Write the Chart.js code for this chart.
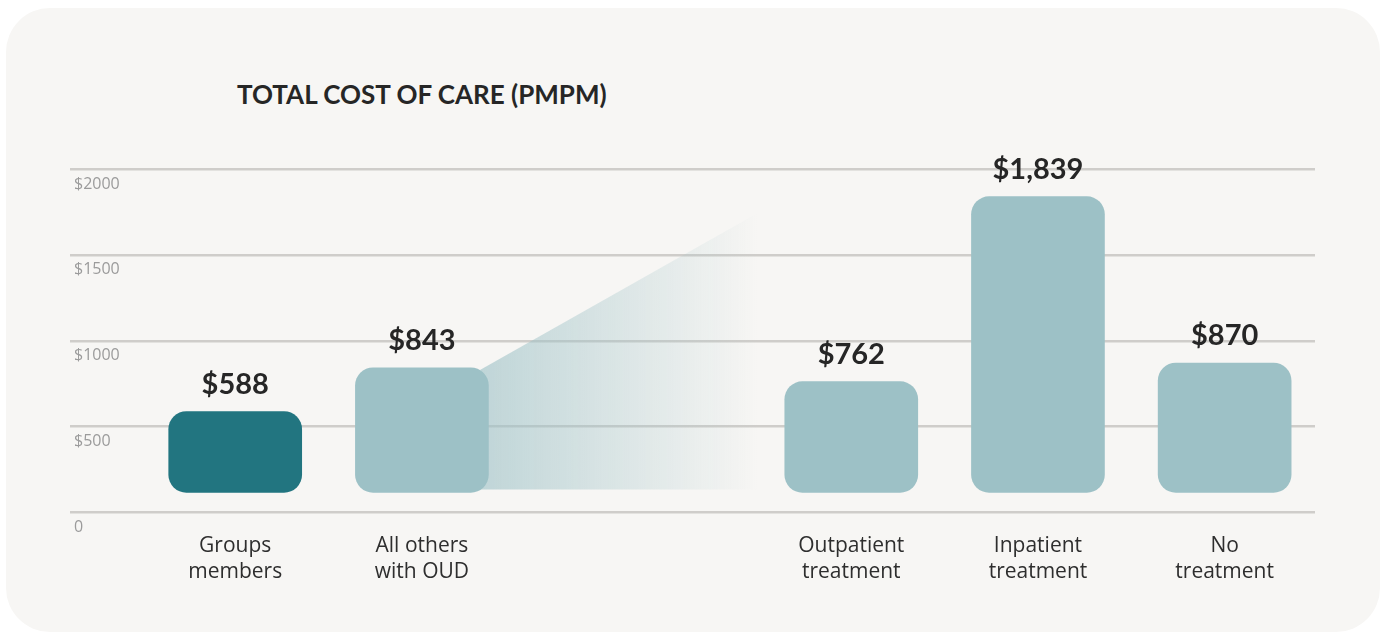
<!DOCTYPE html>
<html>
<head>
<meta charset="utf-8">
<script src="https://cdn.jsdelivr.net/npm/chart.js@4.4.1/dist/chart.umd.min.js"></script>
<style>
  html, body { margin: 0; padding: 0; background: #fff; }
  body { width: 1386px; height: 634px; position: relative; overflow: hidden; }
  .card { position: absolute; left: 6px; top: 8px; width: 1374px; height: 624px; border-radius: 44px; background: #f7f6f4; }
  .title { position: absolute; left: 237px; top: 81px; font: 700 26px/26px Lato, sans-serif; color: #262626; white-space: nowrap; }
  canvas { position: absolute; left: 0; top: 0; }
</style>
</head>
<body>
<div class="card"></div>
<div class="title">TOTAL COST OF CARE (PMPM)</div>
<canvas id="chart" width="1386" height="634"></canvas>
<script>
const categories = [
    ["Groups", "members"],
    ["All others", "with OUD"],
    ["Outpatient", "treatment"],
    ["Inpatient", "treatment"],
    ["No", "treatment"]
];
const costs = [588, 843, 762, 1839, 870];
const highlighted = [true, false, false, false, false];
const yTickValues = [0, 500, 1000, 1500, 2000];

const DARK = "#227580";
const LIGHT = "#9dc1c6";
const GAP = 1.3; // extra slots between the two groups of bars

const xPos = costs.map((_, i) => i + (i >= 2 ? GAP : 0));

// fading wedge from "All others" towards the treatment breakdown
const wedgePlugin = {
    id: "wedge",
    beforeDatasetsDraw(chart) {
        const { ctx, chartArea } = chart;
        const bars = chart.getDatasetMeta(0).data;
        const src = bars[1], dst = bars[2];
        const left = src.x + src.width / 2 - 8;
        const right = dst.x - dst.width / 2 - 27;
        const bottom = src.base - 3;
        const grad = ctx.createLinearGradient(left, 0, right, 0);
        grad.addColorStop(0, "rgba(157,193,198,0.62)");
        grad.addColorStop(1, "rgba(157,193,198,0)");
        ctx.save();
        ctx.beginPath();
        ctx.moveTo(left, src.y + 2);
        ctx.lineTo(right, chartArea.top + 44);
        ctx.lineTo(right, bottom);
        ctx.lineTo(left, bottom);
        ctx.closePath();
        ctx.fillStyle = grad;
        ctx.fill();
        ctx.restore();
    }
};

const valueLabels = {
    id: "valueLabels",
    afterDatasetsDraw(chart) {
        const { ctx } = chart;
        ctx.save();
        ctx.font = "700 29px Lato, sans-serif";
        ctx.fillStyle = "#262626";
        ctx.textAlign = "center";
        ctx.textBaseline = "alphabetic";
        chart.getDatasetMeta(0).data.forEach((bar, i) => {
            ctx.fillText("$" + costs[i].toLocaleString("en-US"), bar.x, bar.y - 18);
        });
        ctx.restore();
    }
};

new Chart(document.getElementById("chart"), {
    type: "bar",
    plugins: [wedgePlugin, valueLabels],
    data: {
        datasets: [
            {
                label: "Total cost of care (PMPM)",
                data: costs.map((v, i) => ({ x: xPos[i], y: v })),
                backgroundColor: highlighted.map(h => (h ? DARK : LIGHT)),
                borderRadius: 18,
                borderSkipped: false,
                barThickness: 133,
                base: 117
            }
        ]
    },
    options: {
        responsive: false,
        animation: false,
        layout: { padding: { left: 62, right: 71, top: 169, bottom: 37 } },
        plugins: {
            legend: { display: false },
            tooltip: { enabled: false }
        },
        scales: {
            x: {
                type: "linear",
                offset: false,
                min: xPos[0] - 0.885,
                max: xPos[xPos.length - 1] + 0.484,
                afterBuildTicks: scale => {
                    scale.ticks = xPos.map(v => ({ value: v }));
                },
                grid: { display: false },
                border: { display: false },
                ticks: {
                    autoSkip: false,
                    maxRotation: 0,
                    padding: 12,
                    color: "#2e2e2e",
                    font: { family: "'Open Sans', sans-serif", size: 21, lineHeight: 1.25 },
                    callback: (v, i) => categories[i]
                }
            },
            y: {
                min: 0,
                max: 2000,
                afterBuildTicks: scale => {
                    scale.ticks = yTickValues.map(v => ({ value: v }));
                },
                grid: { color: "#cfcdca", lineWidth: 2.5, drawTicks: false },
                border: { display: false },
                ticks: {
                    mirror: true,
                    padding: 4,
                    labelOffset: 15,
                    color: "#9b9b9b",
                    font: { family: "'Open Sans', sans-serif", size: 16 },
                    callback: v => (v === 0 ? "0" : "$" + v)
                }
            }
        }
    }
});
</script>
</body>
</html>
